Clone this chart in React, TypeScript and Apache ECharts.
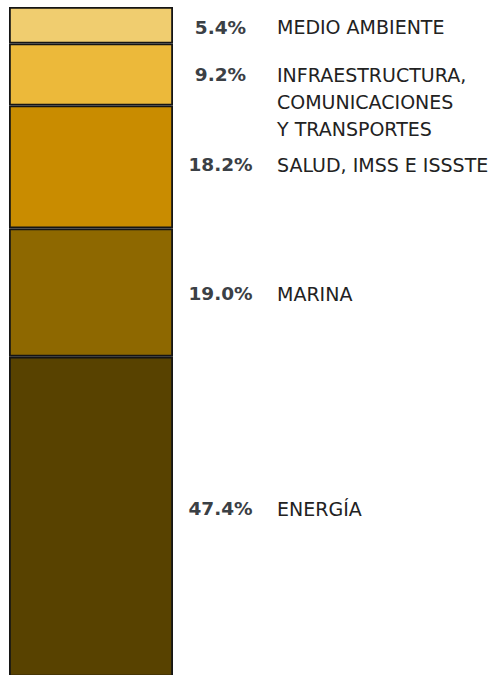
import React, { useEffect, useRef } from "react";
import * as echarts from "echarts";

const categories = ["MEDIO AMBIENTE", "INFRAESTRUCTURA,\nCOMUNICACIONES\nY TRANSPORTES", "SALUD, IMSS E ISSSTE", "MARINA", "ENERGÍA"];
const values = [5.4, 9.2, 18.2, 19.0, 47.4];
const colors = ["#F0CD6F", "#ECB93A", "#C98C00", "#8E6800", "#584200"];
const labelOffsets = [2, 27, -2, 1, -8];

export default function App() {
  const ref = useRef<HTMLDivElement>(null);
  useEffect(() => {
    const chart = echarts.init(ref.current!, null, { renderer: "svg" });
    const series = categories.map((name, i) => {
      const lines = name.split("\n");
      const text = lines
        .map((l, j) => (j === 0 ? `{p|${values[i].toFixed(1)}%}{n|${l}}` : `{s|}{n|${l}}`))
        .join("\n");
      return {
        type: "bar",
        name,
        stack: "total",
        barWidth: "100%",
        data: [values[i]],
        itemStyle: { color: colors[i], borderColor: "#151515", borderWidth: 1.8 },
        label: {
          show: true,
          position: "right",
          distance: 10,
          offset: [0, labelOffsets[i]],
          formatter: () => text,
          rich: {
            p: { width: 75, align: "right", fontWeight: "bold", fontSize: 18.5, color: "#3b4045", fontFamily: "DejaVu Sans", lineHeight: 27 },
            s: { width: 75, fontSize: 18, lineHeight: 27 },
            n: { fontSize: 19, color: "#222", fontFamily: "DejaVu Sans", padding: [0, 0, 0, 19], lineHeight: 27 },
          },
        },
      };
    });
    chart.setOption({
      animation: false,
      grid: { left: 9, top: 7, width: 164, height: 675 },
      xAxis: { type: "category", data: [""], show: false },
      yAxis: { type: "value", min: 0, max: 100, inverse: true, show: false },
      series,
    });
    return () => chart.dispose();
  }, []);
  return <div ref={ref} style={{ position: "fixed", left: 0, top: 0, width: 491, height: 700, background: "#fff" }} />;
}
